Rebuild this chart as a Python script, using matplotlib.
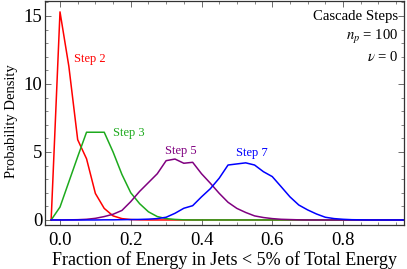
import numpy as np
import matplotlib
matplotlib.use("Agg")
import matplotlib.pyplot as plt
from matplotlib.ticker import MultipleLocator

plt.rcParams['font.family'] = ['Liberation Serif', 'DejaVu Serif']
plt.rcParams['mathtext.fontset'] = 'stix'

# histogram bins (width 0.025, first centre at -0.025)
bin_start = -0.025
bin_width = 0.025

step2 = [0, 15.3, 11.3, 5.9, 4.5, 1.95, 0.85, 0.3, 0.1, 0.03,
         0.01, 0, 0, 0, 0, 0, 0, 0, 0, 0,
         0, 0, 0, 0, 0, 0, 0, 0, 0, 0,
         0, 0, 0, 0, 0, 0, 0, 0, 0, 0, 0]
step3 = [0, 0.95, 2.8, 4.65, 6.45, 6.45, 6.45, 5.0, 3.35, 2.0,
         1.2, 0.6, 0.25, 0.1, 0.04, 0.01, 0, 0, 0, 0,
         0, 0, 0, 0, 0, 0, 0, 0, 0, 0,
         0, 0, 0, 0, 0, 0, 0, 0, 0, 0, 0]
step5 = [0, 0, 0.01, 0.02, 0.05, 0.12, 0.25, 0.42, 0.7, 1.35,
         2.1, 2.75, 3.4, 4.36, 4.48, 4.17, 4.24, 3.4, 2.7, 1.96,
         1.3, 0.85, 0.55, 0.3, 0.18, 0.1, 0.05, 0.03, 0.01, 0,
         0, 0, 0, 0, 0, 0, 0, 0, 0, 0, 0]
step7 = [0, 0, 0, 0, 0, 0, 0.01, 0.01, 0.02, 0.03,
         0.04, 0.06, 0.1, 0.2, 0.49, 0.86, 1.05, 1.7, 2.3, 3.07,
         4.04, 4.12, 4.2, 4.04, 3.55, 3.19, 2.45, 1.7, 1.1, 0.74,
         0.44, 0.2, 0.1, 0.05, 0.02, 0.01, 0, 0, 0, 0, 0]

series = [
    ("Step 2", step2, "#ff0000", (0.085, 11.8)),
    ("Step 3", step3, "#1daa1d", (0.195, 6.4)),
    ("Step 5", step5, "#800080", (0.342, 5.07)),
    ("Step 7", step7, "#0000ff", (0.543, 4.93)),
]

x = bin_start + bin_width * np.arange(len(step2))

fig = plt.figure(figsize=(4.07, 2.69), dpi=100)
ax = fig.add_axes([45 / 407, 44 / 269, 359 / 407, 224 / 269])

for name, vals, color, (tx, ty) in series:
    ax.plot(x, vals, color=color, lw=1.1)
    ax.text(tx, ty, name, color=color, fontsize=9, ha='center', va='center')

ax.set_xlim(-0.0424, 0.9724)
ax.set_ylim(-0.37, 16.1)

ax.xaxis.set_major_locator(MultipleLocator(0.2))
ax.xaxis.set_minor_locator(MultipleLocator(0.05))
ax.yaxis.set_major_locator(MultipleLocator(5))
ax.yaxis.set_minor_locator(MultipleLocator(1))
ax.xaxis.set_major_formatter(plt.FuncFormatter(lambda v, p: f"{v:.1f}"))
ax.tick_params(which='both', direction='in', top=True, right=True,
               color='#555555', labelsize=13.5)
ax.tick_params(which='major', length=4, width=0.6)
ax.tick_params(axis='x', which='major', pad=5)
ax.tick_params(axis='y', which='major', pad=2)
ax.tick_params(which='minor', length=2, width=0.5)
for s in ax.spines.values():
    s.set_color('#333333')
    s.set_linewidth(0.9)

ax.set_xlabel("Fraction of Energy in Jets < 5% of Total Energy", fontsize=13)
ax.set_ylabel("Probability Density", fontsize=10.5)
ax.xaxis.set_label_coords(0.5, -0.117)
ax.yaxis.set_label_coords(-0.075, 0.464)

info = ["Cascade Steps", r"$n_p$ = 100", r"$\nu$ = 0"]
for i, t in enumerate(info):
    ax.text(0.985, 0.929 - i * 0.09, t, transform=ax.transAxes,
            ha='right', va='center', fontsize=10.6)

fig.savefig("out.png", dpi=100)
